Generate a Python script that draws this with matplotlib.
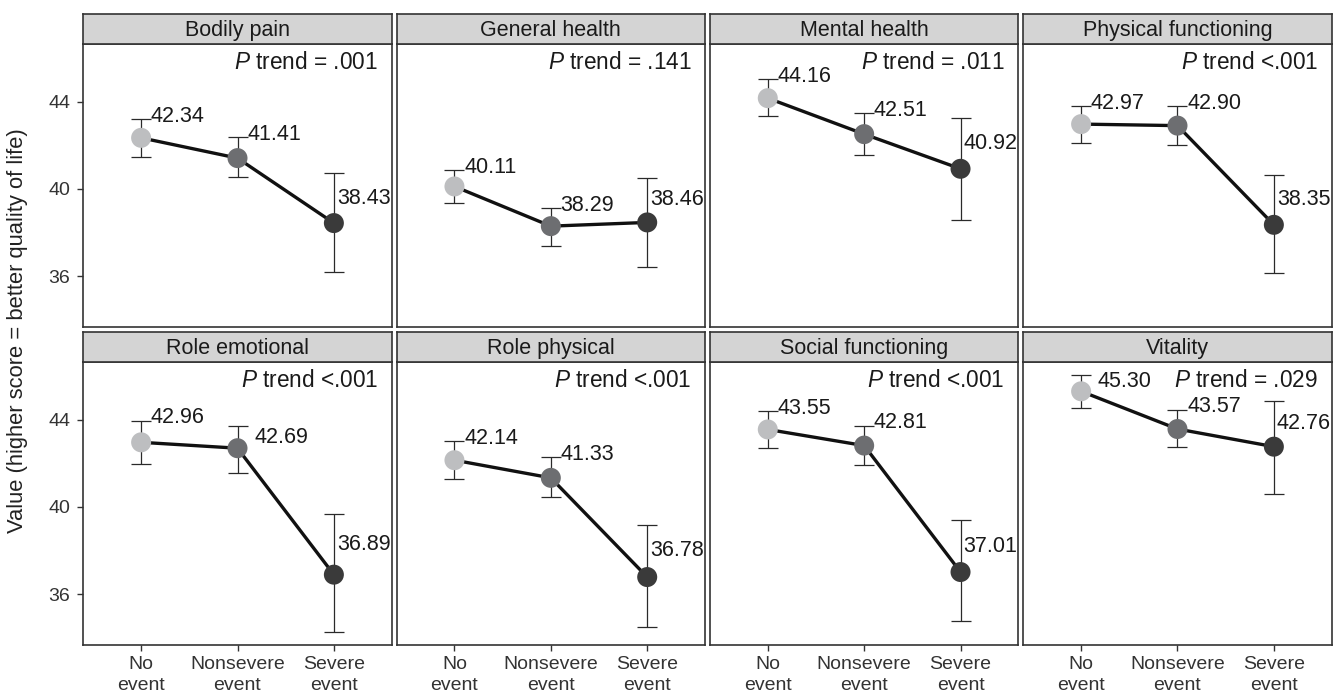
import numpy as np
import matplotlib
matplotlib.use("Agg")
import matplotlib.pyplot as plt

plt.rcParams['font.family'] = ['Liberation Sans', 'DejaVu Sans']
plt.rcParams['mathtext.fontset'] = 'custom'
plt.rcParams['mathtext.it'] = 'Liberation Sans:italic'
plt.rcParams['mathtext.rm'] = 'Liberation Sans'

# data
panels = ["Bodily pain", "General health", "Mental health", "Physical functioning",
          "Role emotional", "Role physical", "Social functioning", "Vitality"]
groups = ["No\nevent", "Nonsevere\nevent", "Severe\nevent"]
means = [[42.34, 41.41, 38.43], [40.11, 38.29, 38.46], [44.16, 42.51, 40.92],
         [42.97, 42.90, 38.35], [42.96, 42.69, 36.89], [42.14, 41.33, 36.78],
         [43.55, 42.81, 37.01], [45.30, 43.57, 42.76]]
lower = [[41.48, 40.53, 36.19], [39.36, 37.40, 36.43], [43.32, 41.56, 38.59],
         [42.12, 42.03, 36.13], [41.95, 41.57, 34.26], [41.27, 40.43, 34.50],
         [42.69, 41.91, 34.77], [44.53, 42.76, 40.61]]
upper = [[43.19, 42.37, 40.72], [40.86, 39.13, 40.52], [45.05, 43.46, 43.25],
         [43.80, 43.80, 40.64], [43.96, 43.72, 39.69], [43.00, 42.30, 39.18],
         [44.39, 43.73, 39.38], [46.07, 44.46, 44.87]]
p_trend = ["= .001", "= .141", "= .011", "<.001", "<.001", "<.001", "<.001", "= .029"]

point_colors = ['#bdbec0', '#6d6e71', '#3a3a3a']
border = '#333333'

W, H = 1340, 700
fig = plt.figure(figsize=(W / 100, H / 100), dpi=100)

left0, pw, gap = 83.3, 308.4, 4.93
row_tops = [14, 332]       # strip top, px from top
strip_h, body_h = 30.3, 283

# label nudges where the original moved labels off the caps
nudge = {(4, 1): 0.18, (7, 0): 0.17}

x = np.arange(1, 4)
for i, name in enumerate(panels):
    r, c = divmod(i, 4)
    lx = left0 + c * (pw + gap)
    st = row_tops[r]
    bt = st + strip_h
    ax = fig.add_axes([lx / W, 1 - (bt + body_h) / H, pw / W, body_h / H])
    sax = fig.add_axes([lx / W, 1 - bt / H, pw / W, strip_h / H])

    sax.set_facecolor('#d4d4d4')
    sax.set_xticks([])
    sax.set_yticks([])
    for s in sax.spines.values():
        s.set_color(border)
        s.set_linewidth(1.2)
    sax.text(0.5, 0.47, name, ha='center', va='center', fontsize=15.5, color='#1a1a1a',
             transform=sax.transAxes)

    m = np.array(means[i])
    lo = np.array(lower[i])
    up = np.array(upper[i])
    ax.errorbar(x, m, yerr=[m - lo, up - m], fmt='none', ecolor='#2a2a2a',
                elinewidth=0.9, capsize=7.2, capthick=0.9, zorder=2)
    ax.plot(x, m, color='#111111', lw=2.4, zorder=3)
    ax.scatter(x, m, s=14.4 ** 2, c=point_colors, zorder=4, linewidths=0)

    for j in range(3):
        if j < 2:
            tx, ty = x[j] + 0.1, up[j] + 0.12
        else:
            tx, ty = x[j] + 0.03, (m[j] + up[j]) / 2
        if (i, j) in nudge:
            tx, ty = x[j] + nudge[(i, j)], m[j] + 0.47
        ax.text(tx, ty, f"{m[j]:.2f}", ha='left', va='center', fontsize=15.5,
                color='#1a1a1a', zorder=5)

    ax.text(1 - 13.7 / pw, 1 - 18.4 / body_h, r"$\it{P}$ trend " + p_trend[i],
            ha='right', va='center', fontsize=16.3, color='#1a1a1a', transform=ax.transAxes)

    ax.set_xlim(0.4, 3.6)
    ax.set_ylim(33.65, 46.63)
    ax.set_yticks([36, 40, 44])
    ax.set_xticks(x)
    for s in ax.spines.values():
        s.set_color(border)
        s.set_linewidth(1.2)
    ax.tick_params(length=4.5, width=1, color='#333333', labelcolor='#333333', labelsize=14)
    ax.tick_params(axis='y', pad=5)
    if r == 1:
        ax.set_xticklabels(groups, linespacing=1.3)
        ax.tick_params(axis='x', pad=3)
    else:
        ax.tick_params(axis='x', length=0, labelbottom=False)
    if c != 0:
        ax.tick_params(axis='y', length=0, labelleft=False)

fig.text(18 / W, 1 - 331 / H, "Value (higher score = better quality of life)",
         rotation=90, ha='center', va='center', fontsize=15.8, color='#222222')

fig.savefig("out.png", dpi=100)
